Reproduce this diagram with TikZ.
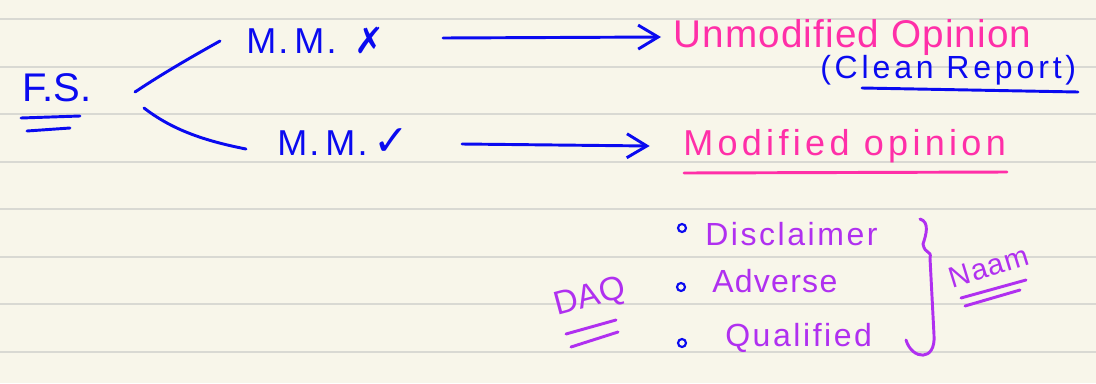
\documentclass[tikz,border=0pt]{standalone}
\usepackage{fontspec}
\setmainfont{Liberation Sans}
\newfontfamily\symfont{DejaVu Sans}
\usetikzlibrary{arrows.meta}
\definecolor{paper}{HTML}{F8F6EA}
\definecolor{rule}{HTML}{D9D9D3}
\definecolor{inkblue}{HTML}{0A0AF0}
\definecolor{inkpink}{HTML}{FF2FA8}
\definecolor{inkpurple}{HTML}{B030F0}
\newcommand{\fsz}[2]{\fontsize{#1}{#1}\selectfont\addfontfeatures{LetterSpace=#2}}
\tikzset{
  pen/.style={line width=2.2pt, line cap=round, line join=round},
  bluepen/.style={pen, draw=inkblue},
  pinkpen/.style={pen, draw=inkpink},
  purplepen/.style={pen, draw=inkpurple},
  bluetext/.style={text=inkblue, inner sep=0pt},
  pinktext/.style={text=inkpink, inner sep=0pt},
  purpletext/.style={text=inkpurple, inner sep=0pt},
  arrowline/.style={bluepen, -{Straight Barb[length=15pt,width=18pt,line width=2.2pt]}},
  bulletdot/.style={circle, draw=inkblue, line width=1.6pt, minimum size=6pt, inner sep=0pt},
}
\begin{document}
\begin{tikzpicture}[x=0.75pt,y=-0.75pt]
\fill[paper] (0,0) rectangle (1096,383);
\useasboundingbox (0,0) rectangle (1096,383);
\foreach \yy in {19,67,114,162,209,257,304,352}
  \draw[rule, line width=1.3pt] (0,\yy) -- (1096,\yy);

% F.S.
\node[bluetext, font=\fsz{30}{0}] (fs) at (57,88) {F.S.};
\coordinate (fsu1a) at (21,118); \coordinate (fsu1b) at (80,116);
\coordinate (fsu2a) at (27,131); \coordinate (fsu2b) at (70,128);
\draw[bluepen] (fsu1a) -- (fsu1b);
\draw[bluepen] (fsu2a) -- (fsu2b);

% branches
\coordinate (b1s) at (135,92); \coordinate (b1e) at (220,41);
\coordinate (b2s) at (144,108); \coordinate (b2e) at (246,149);
\draw[bluepen] (b1s) .. controls (165,72) and (195,55) .. (b1e);
\draw[bluepen] (b2s) .. controls (170,128) and (200,140) .. (b2e);

% M.M. nodes
\node[bluetext, font=\fsz{27}{6}, anchor=west] (mmx) at (246,40) {M.\,M.\enspace{\symfont ✗}};
\node[bluetext, font=\fsz{27}{6}, anchor=west] (mmv) at (277,142) {M.\,M.\,{\symfont\fontsize{32}{32}\selectfont ✓}};

% opinions
\node[pinktext, font=\fsz{29}{3}, anchor=west] (unmod) at (673,37) {Unmodified Opinion};
\node[bluetext, font=\fsz{24}{12}, anchor=west] (clean) at (820,70) {(Clean Report)};
\coordinate (cu1) at (862,88); \coordinate (cu2) at (1078,92);
\draw[bluepen] (cu1) -- (cu2);

\node[pinktext, font=\fsz{27}{12}, anchor=west] (mod) at (683,146) {Modified opinion};
\coordinate (mu1) at (684,173); \coordinate (mu2) at (1007,172);
\draw[pinkpen] (mu1) -- (mu2);

% arrows
\draw[arrowline] (443,38) -- ([xshift=-9pt]unmod.west);
\draw[arrowline] (462,144) -- ([xshift=-25pt]mod.west);

% bullets
\node[bulletdot] (d1) at (682,228) {};
\node[bulletdot] (d2) at (681,287) {};
\node[bulletdot] (d3) at (682,343) {};

\node[purpletext, font=\fsz{24}{8}, anchor=west] (disc) at (705,234) {Disclaimer};
\node[purpletext, font=\fsz{24}{4}, anchor=west] (adv) at (712,281) {Adverse};
\node[purpletext, font=\fsz{24}{8}, anchor=west] (qual) at (725,338) {Qualified};

% brace
\coordinate (br1) at (920,219);
\coordinate (br2) at (906,340);
\draw[purplepen] (br1) .. controls (930,222) and (926,235) .. (923,244)
  .. controls (925,255) and (932,250) .. (930,258)
  -- (934,335) .. controls (936,362) and (912,360) .. (br2);

% Naam
\node[purpletext, font=\fsz{22}{4}, rotate=17] (naam) at (989,267) {Naam};
\coordinate (n1a) at (961,298); \coordinate (n1b) at (1026,280);
\coordinate (n2a) at (965,306); \coordinate (n2b) at (1020,290);
\draw[purplepen] (n1a) -- (n1b);
\draw[purplepen] (n2a) -- (n2b);

% DAQ
\node[purpletext, font=\fsz{25}{0}, rotate=15] (daq) at (590,298) {DAQ};
\coordinate (q1a) at (566,334); \coordinate (q1b) at (616,320);
\coordinate (q2a) at (571,347); \coordinate (q2b) at (618,332);
\draw[purplepen] (q1a) -- (q1b);
\draw[purplepen] (q2a) -- (q2b);
\end{tikzpicture}
\end{document}
